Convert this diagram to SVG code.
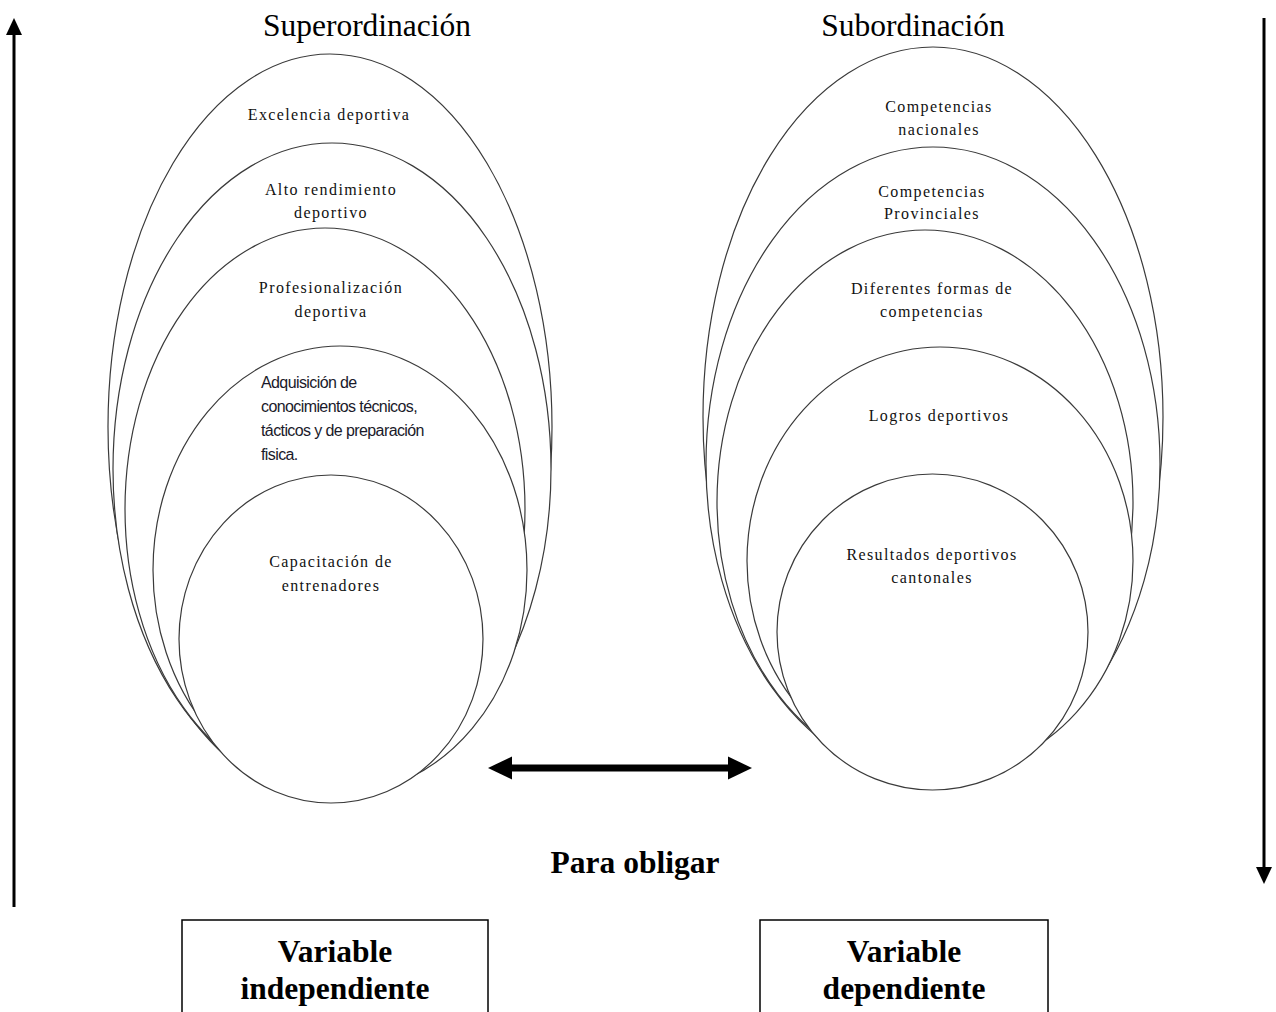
<svg xmlns="http://www.w3.org/2000/svg" width="1276" height="1012" viewBox="0 0 1276 1012">
<style>
.ell{fill:#fff;stroke:#3a3a3a;stroke-width:1.2}
.t{font-family:"Liberation Serif","Times New Roman",serif;font-size:16px;letter-spacing:1.4px;fill:#111;text-anchor:middle}
.s{font-family:"Liberation Sans",Arial,sans-serif;font-size:16px;letter-spacing:-0.6px;fill:#1a1a2a}
.h{font-family:"Liberation Serif","Times New Roman",serif;font-size:31.5px;fill:#000;text-anchor:middle}
.b{font-family:"Liberation Serif","Times New Roman",serif;font-size:31.5px;font-weight:bold;fill:#000;text-anchor:middle}
.box{fill:#fff;stroke:#000;stroke-width:1.5}
</style>
<rect width="1276" height="1012" fill="#fff"/>
<text class="h" x="367" y="36">Superordinación</text>
<text class="h" x="913" y="36">Subordinación</text>
<g id="left-group">
<g id="excelencia"><ellipse class="ell" cx="330" cy="427" rx="222" ry="373"/><text class="t" x="329" y="120">Excelencia deportiva</text></g>
<g id="alto-rendimiento"><ellipse class="ell" cx="332" cy="469" rx="219" ry="326"/><text class="t" x="331" y="195">Alto rendimiento</text><text class="t" x="331" y="218">deportivo</text></g>
<g id="profesionalizacion"><ellipse class="ell" cx="325" cy="509" rx="200" ry="281"/><text class="t" x="331" y="293">Profesionalización</text><text class="t" x="331" y="317">deportiva</text></g>
<g id="adquisicion"><ellipse class="ell" cx="340" cy="570" rx="187" ry="224"/><text class="s" x="261" y="388">Adquisición de</text><text class="s" x="261" y="412">conocimientos técnicos,</text><text class="s" x="261" y="436">tácticos y de preparación</text><text class="s" x="261" y="460">fisica.</text></g>
<g id="capacitacion"><ellipse class="ell" cx="331" cy="639" rx="152" ry="164"/><text class="t" x="331" y="567">Capacitación de</text><text class="t" x="331" y="591">entrenadores</text></g>
</g>
<g id="right-group">
<g id="nacionales"><ellipse class="ell" cx="933" cy="417" rx="230" ry="370"/><text class="t" x="939" y="112">Competencias</text><text class="t" x="939" y="135">nacionales</text></g>
<g id="provinciales"><ellipse class="ell" cx="933" cy="464" rx="227" ry="317"/><text class="t" x="932" y="197">Competencias</text><text class="t" x="932" y="219">Provinciales</text></g>
<g id="diferentes"><ellipse class="ell" cx="925" cy="502" rx="208" ry="272"/><text class="t" x="932" y="294">Diferentes formas de</text><text class="t" x="932" y="317">competencias</text></g>
<g id="logros"><ellipse class="ell" cx="940" cy="561" rx="193" ry="214"/><text class="t" x="939" y="421">Logros deportivos</text></g>
<g id="resultados"><ellipse class="ell" cx="932.5" cy="632" rx="155.5" ry="158"/><text class="t" x="932" y="560">Resultados deportivos</text><text class="t" x="932" y="583">cantonales</text></g>
</g>
<g id="connectors">
<line x1="14" y1="907" x2="14" y2="32" stroke="#000" stroke-width="3"/>
<polygon points="14,18 6,35 22,35" fill="#000"/>
<line x1="1264" y1="18" x2="1264" y2="870" stroke="#000" stroke-width="3"/>
<polygon points="1264,884 1256,867 1272,867" fill="#000"/>
<line x1="508" y1="768" x2="732" y2="768" stroke="#000" stroke-width="7"/>
<polygon points="488,768 512,756.5 512,779.5" fill="#000"/>
<polygon points="752,768 728,756.5 728,779.5" fill="#000"/>
</g>
<text class="b" x="635" y="873">Para obligar</text>
<g id="var-independiente"><rect class="box" x="182" y="920" width="306" height="100"/><text class="b" x="335" y="962">Variable</text><text class="b" x="335" y="999">independiente</text></g>
<g id="var-dependiente"><rect class="box" x="760" y="920" width="288" height="100"/><text class="b" x="904" y="962">Variable</text><text class="b" x="904" y="999">dependiente</text></g>
</svg>
